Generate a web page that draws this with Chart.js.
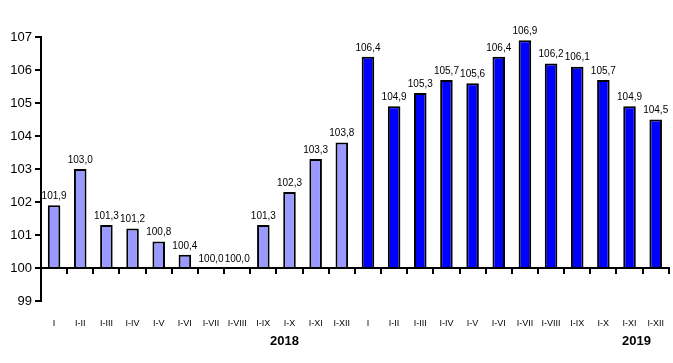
<!DOCTYPE html>
<html>
<head>
<meta charset="utf-8">
<script src="https://cdn.jsdelivr.net/npm/chart.js@4"></script>
<style>
  body { margin: 0; background: #fff; }
  #wrap { width: 673px; height: 363px; }
</style>
</head>
<body>
<div id="wrap"><canvas id="chart"></canvas></div>
<script>
// months, cumulative index
let months = ["I", "I-II", "I-III", "I-IV", "I-V", "I-VI", "I-VII", "I-VIII", "I-IX", "I-X", "I-XI", "I-XII"];
let values2018 = [101.9, 103.0, 101.3, 101.2, 100.8, 100.4, 100.0, 100.0, 101.3, 102.3, 103.3, 103.8];
let values2019 = [106.4, 104.9, 105.3, 105.7, 105.6, 106.4, 106.9, 106.2, 106.1, 105.7, 104.9, 104.5];
let years = ["2018", "2019"];
let yTicks = [99, 100, 101, 102, 103, 104, 105, 106, 107];

let labels = months.concat(months);
let data = values2018.concat(values2019);
let colors = values2018.map(() => "#9999ff").concat(values2019.map(() => "#0000ff"));

// values above bars + year captions
const barLabels = {
    id: "barLabels",
    afterDatasetsDraw(chart) {
        const ctx = chart.ctx;
        const meta = chart.getDatasetMeta(0);
        ctx.save();
        ctx.fillStyle = "#000";
        ctx.font = "10px Arial";
        ctx.textAlign = "center";
        ctx.textBaseline = "bottom";
        meta.data.forEach((bar, i) => {
            ctx.fillText(data[i].toFixed(1).replace(".", ","), bar.x, bar.y - 4);
        });
        const x = chart.scales.x;
        ctx.font = "bold 13px Arial";
        ctx.textBaseline = "middle";
        ctx.fillText(years[0], x.getPixelForValue(9) - 5, 341);
        ctx.fillText(years[1], x.getPixelForValue(22) + 7, 341);
        ctx.restore();
    }
};

new Chart(document.getElementById("chart"), {
    type: "bar",
    data: {
        labels: labels,
        datasets: [{
            data: data,
            base: 100,
            backgroundColor: colors,
            borderColor: "#000",
            borderWidth: 2,
            borderSkipped: "start",
            barPercentage: 0.48,
            categoryPercentage: 1
        }]
    },
    options: {
        responsive: true,
        maintainAspectRatio: false,
        animation: false,
        layout: { padding: { top: 37, right: 3, left: 0, bottom: 0 } },
        plugins: {
            legend: { display: false },
            tooltip: { enabled: false }
        },
        scales: {
            x: {
                position: "bottom",
                grid: { display: false },
                border: { display: false },
                ticks: {
                    color: "#000",
                    font: { family: "Arial", size: 9 },
                    maxRotation: 0,
                    autoSkip: false,
                    padding: 9
                },
                afterFit(scale) { scale.height = 62; }
            },
            x2: {
                type: "category",
                labels: labels,
                offset: true,
                position: { y: 100 },
                grid: {
                    offset: true,
                    drawOnChartArea: false,
                    tickLength: 5,
                    color: "#000",
                    lineWidth: 2
                },
                border: { color: "#000", width: 2 },
                ticks: { display: false },
                afterFit(scale) { scale.height = 0; }
            },
            y: {
                min: 99,
                max: 107,
                afterBuildTicks(scale) {
                    scale.ticks = yTicks.map(v => ({ value: v }));
                },
                grid: {
                    drawOnChartArea: false,
                    tickLength: 6,
                    color: "#000",
                    lineWidth: 2
                },
                border: { color: "#000", width: 2 },
                ticks: {
                    color: "#000",
                    font: { family: "Arial", size: 13 },
                    padding: 3
                },
                afterFit(scale) { scale.width = 41; }
            }
        }
    },
    plugins: [barLabels]
});
</script>
</body>
</html>
